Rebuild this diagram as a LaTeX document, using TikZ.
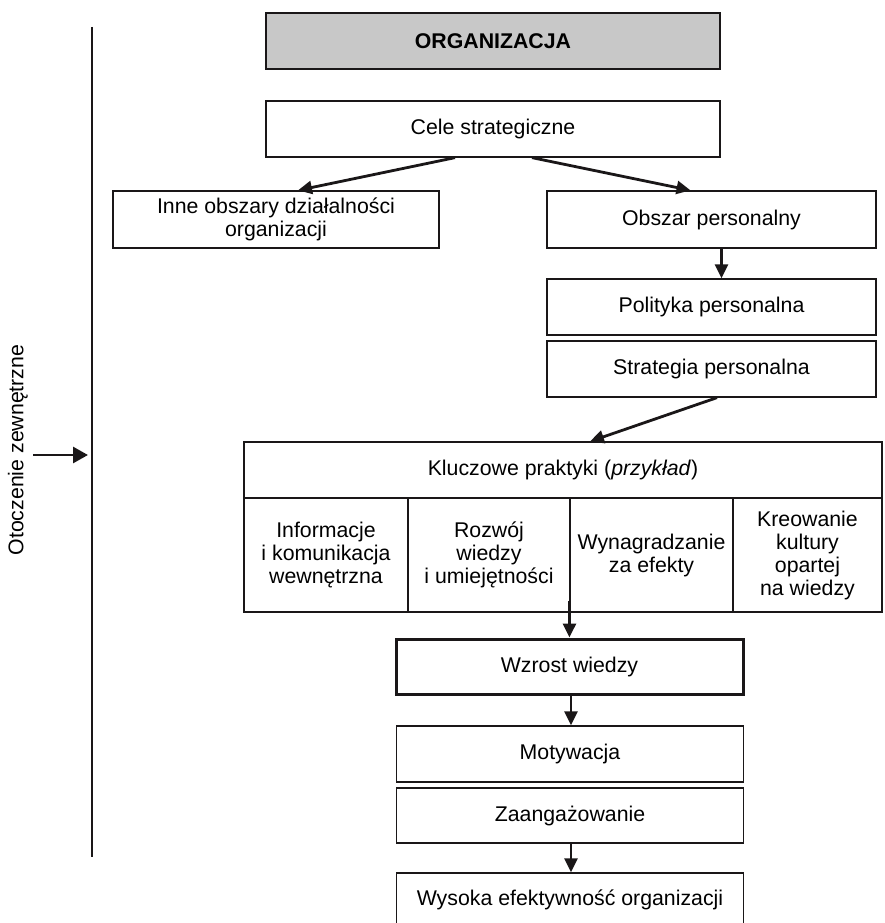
\documentclass[tikz,border=0pt]{standalone}
\usepackage{fontspec}
\setmainfont{Liberation Sans}
\usetikzlibrary{arrows.meta}
\definecolor{ink}{HTML}{1A1718}
\definecolor{headfill}{HTML}{C8C8C8}
\tikzset{
  box/.style={draw=ink, line width=1.3pt, rectangle, inner sep=0pt, align=center,
    text=black, font=\fontsize{21.3}{23}\selectfont},
  thickbox/.style={box, line width=3pt},
  cell/.style={box, line width=1.1pt},
  flow/.style={draw=ink, line width=2.8pt, -{Triangle[length=14pt,width=13pt]}},
}
\begin{document}
\begin{tikzpicture}[x=1pt,y=-1pt]
\useasboundingbox (0,0) rectangle (884,923);

% upper part
\node[box, fill=headfill, line width=2pt, minimum width=454pt, minimum height=56pt,
  font=\fontsize{21.3}{23}\selectfont\bfseries] (org) at (493,41) {ORGANIZACJA};
\node[box, minimum width=454pt, minimum height=56pt] (cele) at (493,129) {Cele strategiczne};
\node[box, minimum width=326pt, minimum height=57pt] (inne) at (276,219.5)
  {Inne obszary działalności\\organizacji};
\node[box, minimum width=329pt, minimum height=57pt] (obszar) at (711.5,219.5) {Obszar personalny};
\node[box, minimum width=329pt, minimum height=56pt] (polit) at (711.5,307) {Polityka personalna};
\node[box, minimum width=329pt, minimum height=56pt] (strat) at (711.5,369) {Strategia personalna};

% table of key practices
\node[cell, minimum width=638pt, minimum height=56pt] (kp) at (563,470)
  {Kluczowe praktyki (\textit{przykład})};
\node[cell, minimum width=164pt, minimum height=114pt] (c1) at (326,555)
  {Informacje\\i komunikacja\\wewnętrzna};
\node[cell, minimum width=162pt, minimum height=114pt] (c2) at (489,555)
  {Rozwój\\wiedzy\\i umiejętności};
\node[cell, minimum width=163pt, minimum height=114pt] (c3) at (651.5,555)
  {Wynagradzanie\\za efekty};
\node[cell, minimum width=149pt, minimum height=114pt] (c4) at (807.5,555)
  {Kreowanie\\kultury\\opartej\\na wiedzy};

% lower chain
\node[thickbox, minimum width=347pt, minimum height=55pt] (wzrost) at (569.5,666.5) {Wzrost wiedzy};
\node[box, minimum width=347pt, minimum height=56pt] (motyw) at (570,754) {Motywacja};
\node[box, minimum width=347pt, minimum height=55pt] (zaang) at (570,815.5) {Zaangażowanie};
\node[box, minimum width=347pt, minimum height=54pt] (wysoka) at (570,900) {Wysoka efektywność organizacji};

% environment
\coordinate (envtop) at (92,27);
\coordinate (envbot) at (92,857);
\coordinate (envmid) at (92,455);
\coordinate (envin) at (33,455);
\draw[draw=ink, line width=2.4pt] (envtop) -- (envbot);
\node[rotate=90, text=black, font=\fontsize{21.3}{23}\selectfont, inner sep=0pt] (otocz) at (18,450)
  {Otoczenie zewnętrzne};
\draw[flow, -{Triangle[length=15pt,width=16pt]}] (envin) -- ([xshift=-4pt]envmid);

% connectors
\draw[flow] ([xshift=-38pt]cele.south) -- ([xshift=22pt]inne.north);
\draw[flow] ([xshift=39pt]cele.south) -- ([xshift=-21pt]obszar.north);
\draw[flow] ([xshift=10pt]obszar.south) -- ([xshift=10pt]polit.north);
\draw[flow] ([xshift=5.5pt]strat.south) -- ([xshift=27pt]kp.north);
\draw[flow] ([yshift=12pt]c3.south west) -- (c3.south west |- wzrost.north);
\draw[flow] ([xshift=1.5pt]wzrost.south) -- ([xshift=1pt]motyw.north);
\draw[flow] ([xshift=1pt]zaang.south) -- ([xshift=1pt]wysoka.north);
\end{tikzpicture}
\end{document}
